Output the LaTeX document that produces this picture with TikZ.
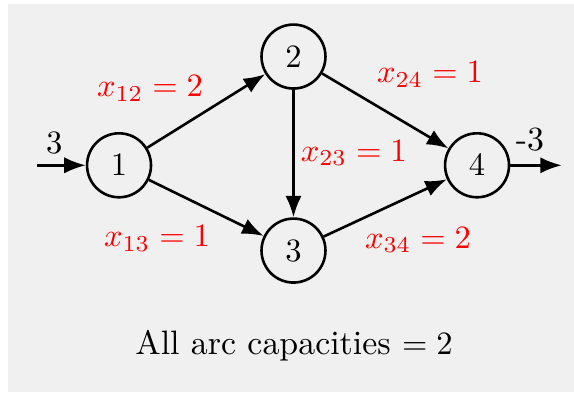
\documentclass[tikz,border=0pt]{standalone}
\usetikzlibrary{arrows.meta}
\definecolor{bggray}{HTML}{F0F0F0}
\begin{document}
\begin{tikzpicture}[>={Latex[length=6.6pt,width=5pt]}, thick, every node/.style={font=\fontsize{10.4}{12.5}\selectfont}]
\useasboundingbox (0,0) rectangle (6.192,4.229);
\fill[bggray] (0.086,0) rectangle (6.192,4.186);
\node[circle, draw, minimum size=0.69cm, inner sep=0pt] (n1) at (1.284,2.446){$1$};
\node[circle, draw, minimum size=0.69cm, inner sep=0pt] (n2) at (3.166,3.619){$2$};
\node[circle, draw, minimum size=0.69cm, inner sep=0pt] (n3) at (3.166,1.526){$3$};
\node[circle, draw, minimum size=0.69cm, inner sep=0pt] (n4) at (5.146,2.446){$4$};
\coordinate (src) at (0.399,2.446);
\coordinate (snk) at (6.06,2.446);
\draw[->](src) -- (n1);
\draw[->](n4) -- (snk);
\draw[->](n1) -- (n2);
\draw[->](n1) -- (n3);
\draw[->](n2) -- (n3);
\draw[->](n2) -- (n4);
\draw[->](n3) -- (n4);
\node (sup) at (0.586,2.683){$3$};
\node (dem) at (5.717,2.718){-3};
\node[red] (f12) at (1.618,3.279){$x_{12}=2$};
\node[red] (f13) at (1.694,1.661){$x_{13}=1$};
\node[red] (f23) at (3.816,2.578){$x_{23}=1$};
\node[red] (f24) at (4.639,3.430){$x_{24}=1$};
\node[red] (f34) at (4.509,1.640){$x_{34}=2$};
\node (cap) at (3.172,0.496){All arc capacities $=2$};
\end{tikzpicture}
\end{document}
